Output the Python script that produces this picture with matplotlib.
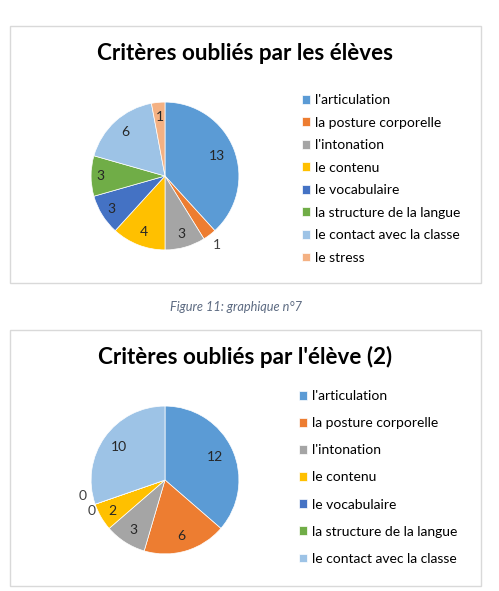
import matplotlib
matplotlib.use("Agg")
import matplotlib.pyplot as plt
from matplotlib.patches import Rectangle
import numpy as np

plt.rcParams['font.family'] = ['Lato', 'DejaVu Sans']

# data
categories1 = ["l'articulation", "la posture corporelle", "l'intonation", "le contenu",
               "le vocabulaire", "la structure de la langue", "le contact avec la classe", "le stress"]
values1 = [13, 1, 3, 4, 3, 3, 6, 1]
title1 = "Critères oubliés par les élèves"

categories2 = ["l'articulation", "la posture corporelle", "l'intonation", "le contenu",
               "le vocabulaire", "la structure de la langue", "le contact avec la classe"]
values2 = [12, 6, 3, 2, 0, 0, 10]
title2 = "Critères oubliés par l'élève (2)"

caption = "Figure 11: graphique n°7"

colors = ['#5B9BD5', '#ED7D31', '#A5A5A5', '#FFC000', '#4472C4', '#70AD47', '#9DC3E6', '#F4B183']

W, H = 499, 591
fig = plt.figure(figsize=(W / 100, H / 100), dpi=100)
fig.patch.set_facecolor('white')


def fx(x):
    return x / W


def fy(y):
    return 1 - y / H


def boite(top, bottom):
    fig.patches.append(Rectangle((fx(10), fy(bottom)), fx(481) - fx(10), fy(top) - fy(bottom),
                                 transform=fig.transFigure, fill=False, edgecolor='#d9d9d9', lw=1))


def camembert(cx, cy, values, cats, title, title_y, leg_x, leg_y, spacing, dist):
    r = 77
    half = 1.2 * r
    ax = fig.add_axes([fx(cx - half), fy(cy + half), 2 * half / W, 2 * half / H])
    ax.set_xlim(-1.2, 1.2)
    ax.set_ylim(-1.2, 1.2)
    ax.set_aspect('equal')
    ax.axis('off')
    wedges, _ = ax.pie(values, colors=colors[:len(values)], startangle=90, counterclock=False,
                       radius=1, wedgeprops=dict(edgecolor='white', linewidth=0.5))
    for w, v, d in zip(wedges, values, dist):
        ang = np.deg2rad((w.theta1 + w.theta2) / 2 + d[1])
        ax.text(d[0] * np.cos(ang), d[0] * np.sin(ang), str(v), ha='center', va='center',
                fontsize=10, color='#262626' if d[0] < 1 else '#404040')
    fig.text(fx(245), fy(title_y), title, ha='center', va='center', fontsize=16.1,
             fontweight='bold', color='black')
    fig.legend(wedges, cats, loc='upper left', bbox_to_anchor=(fx(leg_x), fy(leg_y)),
               frameon=False, fontsize=10, handlelength=0.6, handleheight=0.6,
               handletextpad=0.35, labelspacing=spacing, borderpad=0, borderaxespad=0)


boite(26, 283)
boite(330, 586)

camembert(165, 176, values1, categories1, title1, 53, 302, 94, 0.76,
          [(0.75, 0), (1.17, 0), (0.81, 0), (0.81, 0), (0.85, 0), (0.88, 0), (0.8, 0), (0.8, 0)])
camembert(165, 480, values2, categories2, title2, 357, 299, 390, 1.09,
          [(0.74, 0), (0.79, 0), (0.8, 0), (0.83, 0), (1.14, -8), (1.08, 4), (0.77, 0)])

fig.text(fx(236), fy(307), caption, ha='center', va='center', fontsize=9.2,
         style='italic', color='#5d6b82')

fig.savefig('out.png', dpi=100, facecolor='white')
